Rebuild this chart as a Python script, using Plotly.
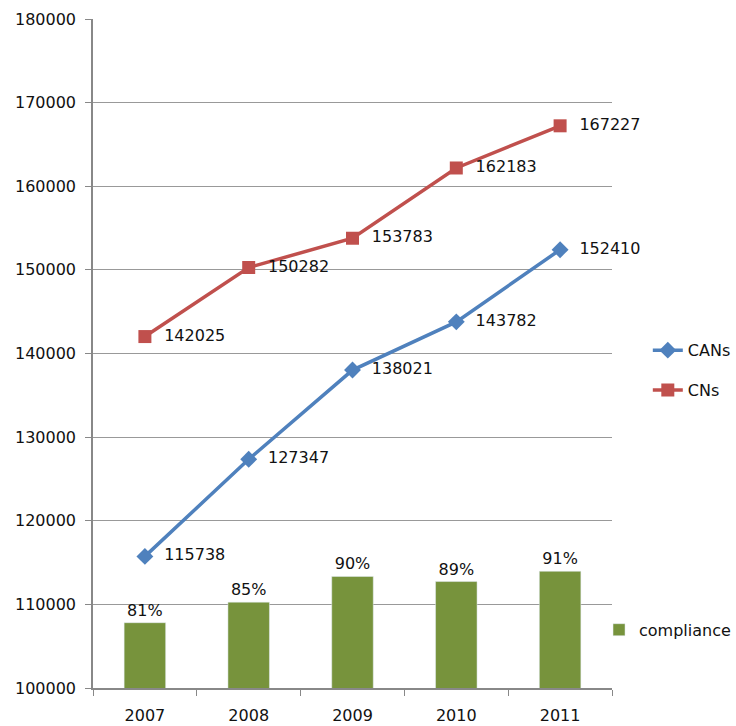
import plotly.graph_objects as go

years = ["2007", "2008", "2009", "2010", "2011"]
cans = [115738, 127347, 138021, 143782, 152410]
cns = [142025, 150282, 153783, 162183, 167227]
compliance = [81, 85, 90, 89, 91]
y_ticks = [100000, 110000, 120000, 130000, 140000, 150000, 160000, 170000, 180000]

FONT = "DejaVu Sans"
FS = 16
fig = go.Figure()

fig.add_trace(go.Bar(
    x=years, y=compliance, name="compliance", yaxis="y2",
    marker=dict(color="#77933C"), width=0.4,
    text=[f"{v}%" for v in compliance], textposition="outside",
    textfont=dict(family=FONT, size=FS, color="#111"),
    cliponaxis=False, legend="legend2",
))
fig.add_trace(go.Scatter(
    x=years, y=cans, name="CANs", mode="lines+markers+text",
    line=dict(color="#4F81BD", width=3.5),
    marker=dict(symbol="diamond", size=13, color="#4F81BD"),
    text=["  " + str(v) for v in cans], textposition="middle right",
    textfont=dict(family=FONT, size=FS, color="#111"),
    cliponaxis=False, legend="legend", legendgroup="a",
))
fig.add_trace(go.Scatter(
    x=years, y=cns, name="CNs", mode="lines+markers+text",
    line=dict(color="#C0504D", width=3.5),
    marker=dict(symbol="square", size=13, color="#C0504D"),
    text=["  " + str(v) for v in cns], textposition="middle right",
    textfont=dict(family=FONT, size=FS, color="#111"),
    cliponaxis=False, legend="legend", legendgroup="b",
))

fig.update_layout(
    width=736, height=726,
    margin=dict(l=93, r=124, t=19, b=38, autoexpand=False),
    plot_bgcolor="white", paper_bgcolor="white",
    font=dict(family=FONT, size=FS, color="#111"),
    bargap=0.6,
    xaxis=dict(
        type="category", showline=True, linecolor="#888", linewidth=1.5,
        ticks="outside", tickson="boundaries", ticklen=6, tickcolor="#888",
        showgrid=False, tickfont=dict(family=FONT, size=FS), automargin=False,
        ticklabelstandoff=12,
    ),
    yaxis=dict(
        range=[100000, 180000], tickvals=y_ticks, ticktext=[str(v) for v in y_ticks],
        showline=True, linecolor="#888", linewidth=1.5,
        ticks="outside", ticklen=6, tickcolor="#888",
        showgrid=True, gridcolor="#999", gridwidth=1.2,
        tickfont=dict(family=FONT, size=FS), zeroline=False, automargin=False,
        ticklabelstandoff=6,
    ),
    yaxis2=dict(overlaying="y", range=[68.3, 198.4], visible=False),
    legend=dict(x=1.069, y=0.475, xanchor="left", yanchor="middle",
                font=dict(family=FONT, size=FS), bgcolor="rgba(0,0,0,0)",
                tracegroupgap=16),
    legend2=dict(x=0.975, y=0.087, xanchor="left", yanchor="middle",
                 font=dict(family=FONT, size=FS), bgcolor="rgba(0,0,0,0)"),
)

fig.write_html("out.html")
